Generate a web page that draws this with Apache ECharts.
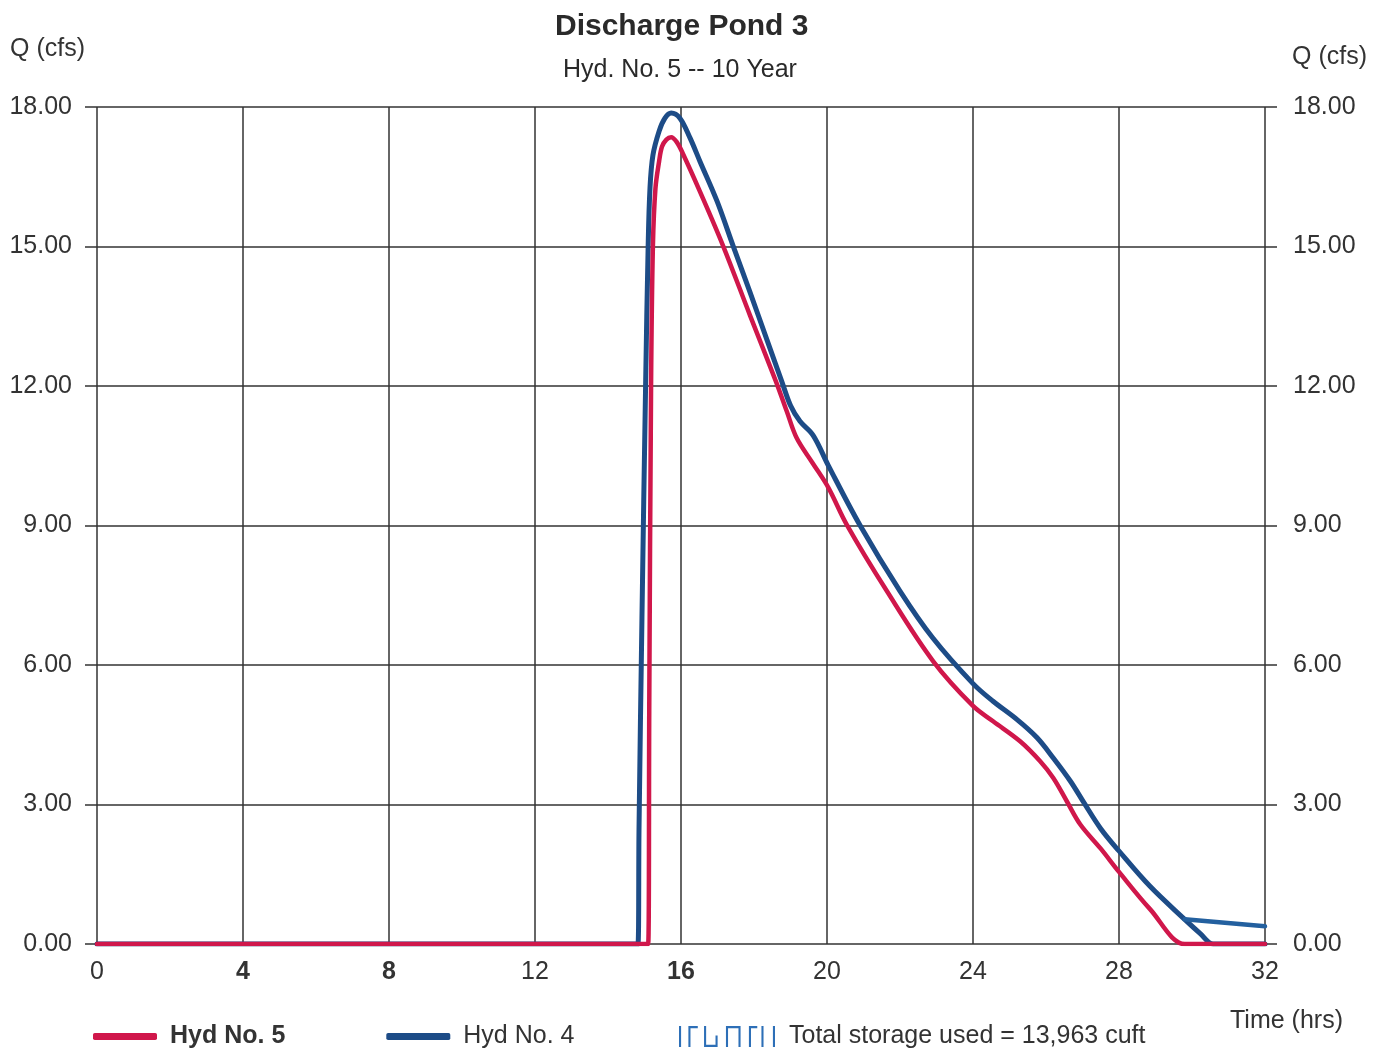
<!DOCTYPE html>
<html>
<head>
<meta charset="utf-8">
<title>Discharge Pond 3</title>
<script src="https://cdn.jsdelivr.net/npm/echarts@6/dist/echarts.min.js"></script>
<style>
  html, body { margin: 0; padding: 0; background: #ffffff; }
  #chart { width: 1388px; height: 1053px; }
</style>
</head>
<body>
<div id="chart"></div>
<script>
// Hyd No. 5 (outflow) — time in hours, discharge in cfs
const hyd5Time = [0, 14.90, 15.10, 15.13, 15.18, 15.23, 15.30, 15.40, 15.48, 15.60, 15.73, 15.88, 16.05, 16.52, 17.15, 17.89, 18.60, 18.90, 19.17, 19.60, 20.04, 20.54, 21.64, 22.91, 24.00, 24.55, 25.29, 25.84, 26.20, 26.57, 26.94, 27.50, 28.00, 28.85, 29.80, 30.10, 32.00];
const hyd5Flow = [0, 0, 0, 5.0, 12.0, 15.0, 16.25, 16.83, 17.15, 17.30, 17.35, 17.25, 17.00, 16.18, 15.02, 13.52, 12.10, 11.45, 10.88, 10.35, 9.81, 9.02, 7.59, 6.08, 5.12, 4.79, 4.36, 3.93, 3.57, 3.07, 2.57, 2.05, 1.55, 0.75, 0, 0, 0];

// Hyd No. 4 (inflow)
const hyd4Time = [0, 14.60, 14.82, 14.85, 14.93, 15.03, 15.10, 15.15, 15.23, 15.40, 15.56, 15.73, 15.97, 16.25, 16.52, 16.99, 17.42, 17.89, 18.36, 18.76, 19.00, 19.26, 19.62, 20.03, 20.90, 22.00, 22.90, 24.00, 24.55, 25.20, 25.75, 26.20, 26.67, 27.03, 27.50, 28.00, 28.85, 29.80, 30.22, 30.58, 30.90, 32.00];
const hyd4Flow = [0, 0, 0, 2.5, 7.0, 12.0, 15.0, 16.25, 16.96, 17.48, 17.76, 17.87, 17.76, 17.33, 16.83, 15.97, 15.03, 14.02, 12.98, 12.10, 11.58, 11.24, 10.94, 10.30, 9.01, 7.59, 6.58, 5.60, 5.22, 4.83, 4.44, 4.00, 3.50, 3.05, 2.48, 2.00, 1.24, 0.53, 0.23, 0, 0, 0];

// Hyd No. 4 trailing segment
const hyd4TailTime = [29.80, 32.00];
const hyd4TailFlow = [0.53, 0.38];

// Axis ranges and storage summary
const timeTicks = [0, 4, 8, 12, 16, 20, 24, 28, 32];
const flowTicks = [0, 3, 6, 9, 12, 15, 18];
const totalStorageCuft = [13963];

const FONT = '"Liberation Sans", Arial, Helvetica, sans-serif';
const TEXT = '#333333';
const GRID = '#333333';
const RED = '#d0174b';
const BLUE = '#1d4c87';
const STORAGE_BLUE = '#2d6fb7';

const pair = (ts, qs) => ts.map((t, i) => [t, qs[i]]);
const storageLabel = 'Total storage used = ' + totalStorageCuft[0].toLocaleString('en-US') + ' cuft';
const storageIcon = 'path://M0,2h2v20h-2z M9,2h2v20h-2z M9,2h9v2h-9z M24,2h2v20h-2z M24,20h11v2h-11z M35,11h2v11h-2z M45,2h2v20h-2z M45,2h12v2h-12z M57,2h2v20h-2z M67,2h2v20h-2z M67,2h8v2h-8z M79,2h2v20h-2z M90,2h2v20h-2z';

const boldTimeLabels = new Set([4, 8, 16]);

const chart = echarts.init(document.getElementById('chart'), null, { renderer: 'canvas' });

const yAxisCommon = {
  type: 'value',
  min: flowTicks[0],
  max: flowTicks[flowTicks.length - 1],
  interval: flowTicks[1] - flowTicks[0],
  axisLine: { show: false },
  axisTick: { show: true, length: 12, lineStyle: { color: GRID, width: 1.5 } },
  axisLabel: {
    fontFamily: FONT, fontSize: 25, color: TEXT,
    formatter: v => v.toFixed(2)
  }
};

chart.setOption({
  animation: false,
  backgroundColor: '#ffffff',
  textStyle: { fontFamily: FONT },
  title: [
    {
      text: 'Discharge Pond 3',
      left: 550, top: 7,
      textStyle: { fontFamily: FONT, fontSize: 30, fontWeight: 'bold', color: '#2a2a2a' }
    },
    {
      text: 'Hyd. No. 5 -- 10 Year',
      left: 558, top: 53,
      textStyle: { fontFamily: FONT, fontSize: 25, fontWeight: 'normal', color: '#2a2a2a' }
    }
  ],
  grid: { left: 97, right: 123, top: 107, bottom: 109, containLabel: false },
  xAxis: {
    type: 'value',
    min: timeTicks[0],
    max: timeTicks[timeTicks.length - 1],
    interval: timeTicks[1] - timeTicks[0],
    axisLine: { show: false },
    axisTick: { show: false },
    splitLine: { show: true, lineStyle: { color: GRID, width: 1.5 } },
    axisLabel: {
      margin: 16,
      formatter: v => (boldTimeLabels.has(v) ? '{b|' + v + '}' : '{n|' + v + '}'),
      rich: {
        n: { fontFamily: FONT, fontSize: 25, color: TEXT },
        b: { fontFamily: FONT, fontSize: 25, color: TEXT, fontWeight: 'bold' }
      }
    }
  },
  yAxis: [
    Object.assign({}, yAxisCommon, {
      position: 'left',
      splitLine: { show: true, lineStyle: { color: GRID, width: 1.5 } },
      axisLabel: Object.assign({}, yAxisCommon.axisLabel, { margin: 25 })
    }),
    Object.assign({}, yAxisCommon, {
      position: 'right',
      splitLine: { show: false },
      axisLabel: Object.assign({}, yAxisCommon.axisLabel, { margin: 28 })
    })
  ],
  legend: [
    {
      left: 93, top: 1024, padding: 0,
      itemWidth: 64, itemHeight: 7, itemGap: 101,
      icon: 'roundRect',
      textStyle: { fontFamily: FONT, fontSize: 25, color: TEXT, padding: [0, 0, 0, 8] },
      data: [
        { name: 'Hyd No. 5', textStyle: { fontWeight: 'bold' } },
        { name: 'Hyd No. 4' }
      ]
    },
    {
      left: 679, top: 1024, padding: 0,
      itemWidth: 96, itemHeight: 24,
      textStyle: { fontFamily: FONT, fontSize: 25, color: TEXT, padding: [0, 0, 0, 9] },
      data: [{ name: storageLabel, icon: storageIcon }]
    }
  ],
  graphic: [
    { type: 'text', left: 10, top: 37, style: { text: 'Q (cfs)', font: '25px ' + FONT, fill: TEXT } },
    { type: 'text', left: 1292, top: 45, style: { text: 'Q (cfs)', font: '25px ' + FONT, fill: TEXT } },
    { type: 'text', left: 1230, top: 1009, style: { text: 'Time (hrs)', font: '25px ' + FONT, fill: TEXT } }
  ],
  series: [
    {
      name: 'Hyd No. 4',
      type: 'line',
      data: pair(hyd4Time, hyd4Flow),
      showSymbol: false, symbol: 'none',
      smooth: 0.35,
      color: BLUE,
      lineStyle: { color: BLUE, width: 5, cap: 'round', join: 'round' },
      z: 2
    },
    {
      name: 'Hyd No. 4',
      type: 'line',
      data: pair(hyd4TailTime, hyd4TailFlow),
      showSymbol: false, symbol: 'none',
      color: BLUE,
      lineStyle: { color: '#23609f', width: 4.5, cap: 'round' },
      z: 2
    },
    {
      name: 'Hyd No. 5',
      type: 'line',
      data: pair(hyd5Time, hyd5Flow),
      showSymbol: false, symbol: 'none',
      smooth: 0.35,
      color: RED,
      lineStyle: { color: RED, width: 4.5, cap: 'round', join: 'round' },
      z: 3
    },
    {
      name: storageLabel,
      type: 'line',
      data: [],
      color: STORAGE_BLUE,
      itemStyle: { color: STORAGE_BLUE }
    }
  ]
});
</script>
</body>
</html>
